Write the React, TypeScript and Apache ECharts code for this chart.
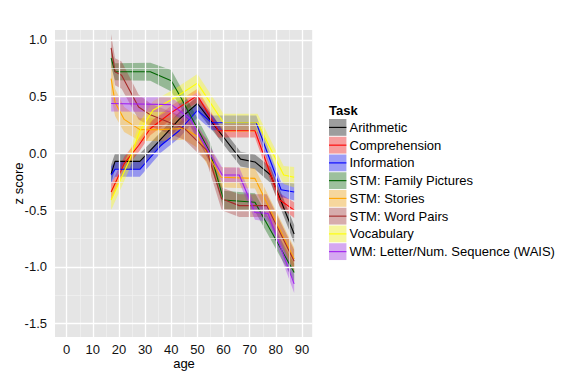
import React, { useEffect, useRef } from 'react';
import * as echarts from 'echarts';

const taskNames = [
  'Arithmetic',
  'Comprehension',
  'Information',
  'STM: Family Pictures',
  'STM: Stories',
  'STM: Word Pairs',
  'Vocabulary',
  'WM: Letter/Num. Sequence (WAIS)',
];
const taskColors = ['#000000', '#FF0000', '#0000FF', '#006400', '#FFA500', '#A52A2A', '#FFFF00', '#A020F0'];

// Arithmetic
const arithmeticAge = [17, 18.5, 28, 35, 43, 50, 66.5, 72, 78, 87];
const arithmeticZ = [-0.18, -0.07, -0.07, 0.1, 0.3, 0.44, -0.05, -0.075, -0.19, -0.71];
const arithmeticHw = [0.08, 0.07, 0.07, 0.065, 0.065, 0.065, 0.065, 0.065, 0.07, 0.08];
// Comprehension
const comprehensionAge = [17, 22, 27.5, 32, 40, 50, 58, 72, 81.5, 87];
const comprehensionZ = [-0.34, -0.09, 0.07, 0.22, 0.36, 0.51, 0.2, 0.2, -0.41, -0.5];
const comprehensionHw = [0.07, 0.06, 0.06, 0.06, 0.06, 0.06, 0.06, 0.06, 0.06, 0.07];
// Information
const informationAge = [17, 18.5, 28, 36, 43, 50, 55.5, 72.5, 82, 87];
const informationZ = [-0.19, -0.14, -0.14, 0.07, 0.2, 0.38, 0.27, 0.27, -0.32, -0.34];
const informationHw = [0.075, 0.065, 0.065, 0.065, 0.065, 0.065, 0.065, 0.065, 0.065, 0.075];
// STM: Family Pictures
const familyAge = [17, 18.5, 32, 40, 43.5, 50, 55, 60, 72, 87];
const familyZ = [0.84, 0.72, 0.72, 0.64, 0.5, 0.22, 0.0, -0.41, -0.43, -1.05];
const familyHw = [0.08, 0.075, 0.08, 0.095, 0.09, 0.09, 0.09, 0.08, 0.08, 0.08];
// STM: Stories
const storiesAge = [17, 18.5, 22, 28, 35, 45, 50, 59, 72, 87];
const storiesZ = [0.66, 0.45, 0.3, 0.21, 0.21, 0.22, 0.15, -0.21, -0.22, -0.93];
const storiesHw = [0.15, 0.12, 0.11, 0.1, 0.1, 0.1, 0.1, 0.09, 0.09, 0.1];
// STM: Word Pairs
const wordPairsAge = [17, 18.5, 21, 27.5, 32, 45, 53.5, 59.3, 66, 76.5, 87];
const wordPairsZ = [0.93, 0.72, 0.69, 0.41, 0.34, 0.22, 0.03, -0.4, -0.46, -0.46, -0.95];
const wordPairsHw = [0.12, 0.12, 0.12, 0.11, 0.1, 0.1, 0.1, 0.1, 0.1, 0.1, 0.1];
// Vocabulary
const vocabularyAge = [17, 24, 28, 33, 42, 50, 60, 73, 83, 87];
const vocabularyZ = [-0.41, -0.06, 0.2, 0.38, 0.5, 0.62, 0.27, 0.27, -0.19, -0.21];
const vocabularyHw = [0.09, 0.08, 0.08, 0.08, 0.08, 0.08, 0.08, 0.08, 0.08, 0.09];
// WM: Letter/Num. Sequence
const wmAge = [17, 40, 47, 59.5, 66, 72, 77, 87];
const wmZ = [0.44, 0.43, 0.31, -0.19, -0.19, -0.52, -0.53, -1.15];
const wmHw = [0.07, 0.065, 0.065, 0.065, 0.065, 0.065, 0.07, 0.08];

const taskAges = [arithmeticAge, comprehensionAge, informationAge, familyAge, storiesAge, wordPairsAge, vocabularyAge, wmAge];
const taskZ = [arithmeticZ, comprehensionZ, informationZ, familyZ, storiesZ, wordPairsZ, vocabularyZ, wmZ];
const taskHw = [arithmeticHw, comprehensionHw, informationHw, familyHw, storiesHw, wordPairsHw, vocabularyHw, wmHw];

const xMajor = [0, 10, 20, 30, 40, 50, 60, 70, 80, 90];
const xMinor = [5, 15, 25, 35, 45, 55, 65, 75, 85];
const yMajor = [-1.5, -1.0, -0.5, 0.0, 0.5, 1.0];
const yMinor = [-1.25, -0.75, -0.25, 0.25, 0.75];
const xMin = -4.47;
const xMax = 93.9;
const yMin = -1.618;
const yMax = 1.088;

const FONT = '"Liberation Sans", Arial, Helvetica, sans-serif';
const BAND_ALPHA = 0.35;

function rgba(hex: string, a: number) {
  const r = parseInt(hex.slice(1, 3), 16);
  const g = parseInt(hex.slice(3, 5), 16);
  const b = parseInt(hex.slice(5, 7), 16);
  return `rgba(${r},${g},${b},${a})`;
}

export default function App() {
  const ref = useRef<HTMLDivElement>(null);
  useEffect(() => {
    if (!ref.current) return;
    const chart = echarts.init(ref.current, undefined, { renderer: 'svg' });

    const ribbons = taskNames.map((name, k) => {
      const ages = taskAges[k];
      const z = taskZ[k];
      const hw = taskHw[k];
      return {
        type: 'custom',
        name,
        z: 2,
        silent: true,
        data: ages.map((a, i) => [a, z[i] - hw[i], z[i] + hw[i]]),
        encode: { x: 0, y: [1, 2] },
        renderItem: (params: any, api: any) => {
          if (params.dataIndex !== 0) return null;
          const lower = ages.map((a, i) => api.coord([a, z[i] - hw[i]]));
          const upper = ages.map((a, i) => api.coord([a, z[i] + hw[i]])).reverse();
          return {
            type: 'polygon',
            shape: { points: lower.concat(upper) },
            style: { fill: rgba(taskColors[k], BAND_ALPHA), stroke: null },
          };
        },
      };
    });

    const lines = taskNames.map((name, k) => ({
      type: 'line',
      name: name + ' ',
      z: 3,
      silent: true,
      symbol: 'none',
      showSymbol: false,
      data: taskAges[k].map((a, i) => [a, taskZ[k][i]]),
      lineStyle: { color: taskColors[k], width: 1.1 },
      itemStyle: { color: taskColors[k] },
    }));

    const minorStyle = { color: '#F2F2F2', width: 0.7, type: 'solid' };
    const majorStyle = { color: '#FFFFFF', width: 1.3, type: 'solid' };
    const gridSeries = {
      type: 'line',
      name: 'grid',
      z: 1,
      silent: true,
      data: [],
      markLine: {
        silent: true,
        symbol: ['none', 'none'],
        label: { show: false },
        emphasis: { disabled: true },
        lineStyle: { type: 'solid' },
        data: [
          ...xMinor.map((v) => ({ xAxis: v, lineStyle: minorStyle })),
          ...yMinor.map((v) => ({ yAxis: v, lineStyle: minorStyle })),
          ...xMajor.map((v) => ({ xAxis: v, lineStyle: majorStyle })),
          ...yMajor.map((v) => ({ yAxis: v, lineStyle: majorStyle })),
        ],
      },
    };

    const legendTop = 119;
    const rowH = 17.75;
    const legendGraphics: any[] = [
      {
        type: 'text',
        x: 329,
        y: 110,
        style: {
          text: 'Task',
          font: `bold 13px ${FONT}`,
          fill: '#000',
          align: 'left',
          verticalAlign: 'middle',
          textAlign: 'left',
          textVerticalAlign: 'middle',
        },
      },
    ];
    taskNames.forEach((name, k) => {
      const y0 = legendTop + k * rowH;
      const ym = y0 + 8.4;
      legendGraphics.push(
        { type: 'rect', shape: { x: 329, y: y0, width: 17.4, height: 16.8 }, style: { fill: '#F2F2F2' } },
        { type: 'rect', shape: { x: 329, y: y0, width: 17.4, height: 16.8 }, style: { fill: rgba(taskColors[k], BAND_ALPHA) } },
        { type: 'line', shape: { x1: 329, y1: ym, x2: 346.4, y2: ym }, style: { stroke: taskColors[k], lineWidth: 1.1 } },
        {
          type: 'text',
          x: 349.5,
          y: ym,
          style: {
            text: name,
            font: `13px ${FONT}`,
            fill: '#000',
            align: 'left',
            verticalAlign: 'middle',
            textAlign: 'left',
            textVerticalAlign: 'middle',
          },
        }
      );
    });
    legendGraphics.push(
      {
        type: 'text',
        x: 184,
        y: 363,
        style: {
          text: 'age',
          font: `13px ${FONT}`,
          fill: '#000',
          align: 'center',
          verticalAlign: 'middle',
          textAlign: 'center',
          textVerticalAlign: 'middle',
        },
      },
      {
        type: 'text',
        x: 18,
        y: 183.5,
        rotation: Math.PI / 2,
        style: {
          text: 'z score',
          font: `13px ${FONT}`,
          fill: '#000',
          align: 'center',
          verticalAlign: 'middle',
          textAlign: 'center',
          textVerticalAlign: 'middle',
        },
      }
    );

    chart.setOption({
      animation: false,
      backgroundColor: '#FFFFFF',
      grid: {
        left: 55,
        right: 257.8,
        top: 30,
        bottom: 40,
        show: true,
        backgroundColor: '#E5E5E5',
        borderWidth: 0,
        containLabel: false,
      },
      xAxis: {
        type: 'value',
        min: xMin,
        max: xMax,
        axisLine: { show: false },
        splitLine: { show: false },
        minorSplitLine: { show: false },
        axisTick: { show: true, customValues: xMajor, length: 4, lineStyle: { color: '#555', width: 1 } },
        axisLabel: {
          customValues: xMajor,
          margin: 6,
          color: '#111',
          fontSize: 13,
          fontFamily: FONT,
          formatter: (v: number) => String(Math.round(v)),
        },
      },
      yAxis: {
        type: 'value',
        min: yMin,
        max: yMax,
        axisLine: { show: false },
        splitLine: { show: false },
        minorSplitLine: { show: false },
        axisTick: { show: true, customValues: yMajor, length: 4, lineStyle: { color: '#555', width: 1 } },
        axisLabel: {
          customValues: yMajor,
          margin: 8,
          color: '#111',
          fontSize: 13,
          fontFamily: FONT,
          formatter: (v: number) => v.toFixed(1),
        },
      },
      graphic: legendGraphics,
      series: [gridSeries, ...ribbons, ...lines],
    });

    return () => chart.dispose();
  }, []);

  return (
    <div
      ref={ref}
      style={{ position: 'fixed', left: 0, top: 0, width: 570, height: 377, background: '#fff' }}
    />
  );
}
